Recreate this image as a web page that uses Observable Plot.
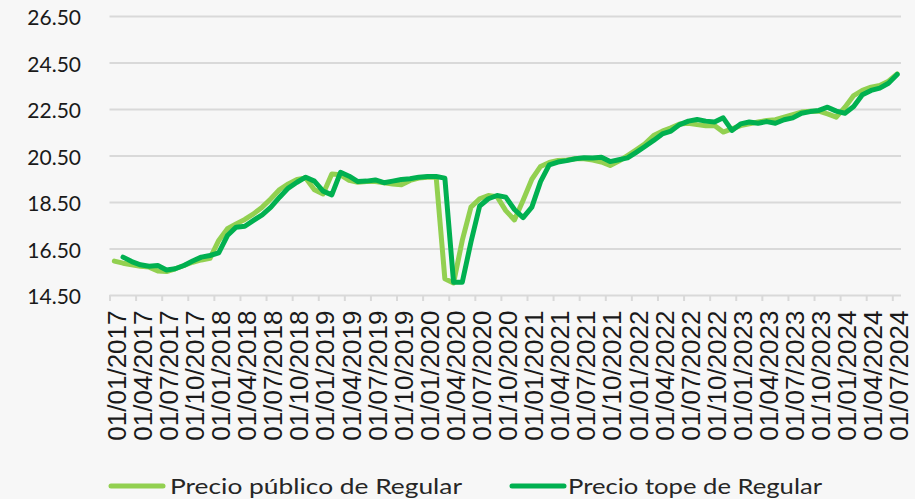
<!DOCTYPE html>
<html><head><meta charset="utf-8">
<script src="https://cdn.jsdelivr.net/npm/d3@7"></script>
<script src="https://cdn.jsdelivr.net/npm/@observablehq/plot@0.6"></script>
<style>
html,body{margin:0;padding:0;background:#f7f7f7;}
#wrap{width:915px;height:499px;background:#f7f7f7;overflow:hidden;}
#wrap svg{display:block;}
</style></head><body><div id="wrap"></div>
<script>
// Monthly categories
const months = [
 "01/01/2017","01/02/2017","01/03/2017","01/04/2017","01/05/2017","01/06/2017","01/07/2017","01/08/2017","01/09/2017","01/10/2017","01/11/2017","01/12/2017",
 "01/01/2018","01/02/2018","01/03/2018","01/04/2018","01/05/2018","01/06/2018","01/07/2018","01/08/2018","01/09/2018","01/10/2018","01/11/2018","01/12/2018",
 "01/01/2019","01/02/2019","01/03/2019","01/04/2019","01/05/2019","01/06/2019","01/07/2019","01/08/2019","01/09/2019","01/10/2019","01/11/2019","01/12/2019",
 "01/01/2020","01/02/2020","01/03/2020","01/04/2020","01/05/2020","01/06/2020","01/07/2020","01/08/2020","01/09/2020","01/10/2020","01/11/2020","01/12/2020",
 "01/01/2021","01/02/2021","01/03/2021","01/04/2021","01/05/2021","01/06/2021","01/07/2021","01/08/2021","01/09/2021","01/10/2021","01/11/2021","01/12/2021",
 "01/01/2022","01/02/2022","01/03/2022","01/04/2022","01/05/2022","01/06/2022","01/07/2022","01/08/2022","01/09/2022","01/10/2022","01/11/2022","01/12/2022",
 "01/01/2023","01/02/2023","01/03/2023","01/04/2023","01/05/2023","01/06/2023","01/07/2023","01/08/2023","01/09/2023","01/10/2023","01/11/2023","01/12/2023",
 "01/01/2024","01/02/2024","01/03/2024","01/04/2024","01/05/2024","01/06/2024","01/07/2024"
];
const tickLabels = [
 "01/01/2017","01/04/2017","01/07/2017","01/10/2017",
 "01/01/2018","01/04/2018","01/07/2018","01/10/2018",
 "01/01/2019","01/04/2019","01/07/2019","01/10/2019",
 "01/01/2020","01/04/2020","01/07/2020","01/10/2020",
 "01/01/2021","01/04/2021","01/07/2021","01/10/2021",
 "01/01/2022","01/04/2022","01/07/2022","01/10/2022",
 "01/01/2023","01/04/2023","01/07/2023","01/10/2023",
 "01/01/2024","01/04/2024","01/07/2024"
];
const yTicks = [14.5, 16.5, 18.5, 20.5, 22.5, 24.5, 26.5];
const seriesNames = ["Precio público de Regular", "Precio tope de Regular"];
const seriesColors = ["#92D050", "#00B050"];

// Precio público de Regular
const publico = [
 15.98,15.89,15.82,15.76,15.72,15.55,15.53,15.65,15.79,15.93,16.03,16.10,
 16.87,17.37,17.58,17.77,18.01,18.30,18.66,19.06,19.30,19.49,19.55,19.05,
 18.87,19.73,19.69,19.45,19.37,19.40,19.40,19.35,19.30,19.26,19.45,19.55,
 19.59,19.59,15.22,15.04,16.87,18.30,18.66,18.80,18.75,18.15,17.75,18.60,
 19.50,20.05,20.22,20.31,20.33,20.38,20.38,20.33,20.24,20.09,20.28,20.52,
 20.77,21.02,21.38,21.57,21.71,21.88,21.91,21.85,21.80,21.81,21.53,21.67,
 21.81,21.88,21.96,22.03,22.06,22.17,22.28,22.39,22.43,22.43,22.31,22.17,
 22.60,23.10,23.32,23.46,23.53,23.72,24.03
];
// Precio tope de Regular
const tope = [
 null,16.15,15.96,15.82,15.76,15.79,15.60,15.65,15.79,15.98,16.15,16.22,
 16.33,17.08,17.44,17.48,17.73,17.97,18.30,18.73,19.12,19.37,19.59,19.42,
 18.99,18.83,19.80,19.63,19.40,19.42,19.47,19.35,19.42,19.49,19.52,19.59,
 19.62,19.62,19.55,15.07,15.07,16.80,18.35,18.66,18.80,18.73,18.20,17.85,
 18.30,19.40,20.12,20.24,20.30,20.38,20.42,20.41,20.45,20.26,20.34,20.42,
 20.66,20.91,21.17,21.45,21.57,21.85,22.00,22.07,22.00,21.96,22.14,21.60,
 21.88,21.96,21.91,21.98,21.91,22.06,22.14,22.34,22.41,22.46,22.60,22.43,
 22.34,22.63,23.13,23.32,23.42,23.63,24.01
];

const pubRows = months.map((m, i) => ({i, m, v: publico[i]})).filter(d => d.v != null);
const topeRows = months.map((m, i) => ({i, m, v: tope[i]})).filter(d => d.v != null);
const labelIdx = tickLabels.map(l => months.indexOf(l));
const boundaries = labelIdx.map(i => i - 0.5);

const H = 460;
const chart = Plot.plot({
  width: 915,
  height: H,
  marginTop: 16,
  marginBottom: H - 295,
  marginLeft: 109.5,
  marginRight: 14,
  style: {background: "transparent", fontFamily: "Lato, sans-serif", overflow: "visible"},
  x: {type: "linear", domain: [-0.5, months.length - 0.5]},
  y: {domain: [14.5, 26.5]},
  marks: [
    Plot.gridY(yTicks, {stroke: "#d9d9d9", strokeOpacity: 1, strokeWidth: 2}),
    Plot.axisY(yTicks, {tickSize: 0, tickPadding: 29, tickFormat: d => d.toFixed(2), fontSize: 21, fill: "#1a1a1a", dy: 2, label: null}),
    Plot.axisX(boundaries, {tickSize: 6, tickFormat: () => "", stroke: "#d9d9d9", strokeWidth: 2, strokeOpacity: 1, label: null}),
    Plot.text(labelIdx, {x: d => d, y: 14.5, text: (d, k) => tickLabels[k], rotate: -90, textAnchor: "end", lineAnchor: "middle", dy: 15, dx: 3, fontSize: 26, fontFamily: "'Liberation Sans', Arial, sans-serif", fill: "#1a1a1a"}),
    Plot.line(pubRows, {x: "i", y: "v", stroke: seriesColors[0], strokeWidth: 5, strokeLinejoin: "round", strokeLinecap: "round"}),
    Plot.line(topeRows, {x: "i", y: "v", stroke: seriesColors[1], strokeWidth: 5, strokeLinejoin: "round", strokeLinecap: "round"})
  ]
});
const wrap = document.getElementById("wrap");
wrap.appendChild(chart);

// Legend
const leg = d3.create("svg").attr("width", 915).attr("height", 499 - H)
  .style("font-family", "Lato, sans-serif").style("display", "block");
const legX = [[109, 170, 292], [510, 568, 254]];
seriesNames.forEach((name, k) => {
  leg.append("line").attr("x1", legX[k][0] + 2).attr("x2", legX[k][0] + 54)
    .attr("y1", 26).attr("y2", 26).attr("stroke", seriesColors[k])
    .attr("stroke-width", 5).attr("stroke-linecap", "round");
  leg.append("text").attr("x", legX[k][1]).attr("y", 33.5).attr("font-size", 22)
    .attr("textLength", legX[k][2]).attr("lengthAdjust", "spacingAndGlyphs")
    .attr("fill", "#262626").text(name);
});
wrap.appendChild(leg.node());
</script>
</body></html>
